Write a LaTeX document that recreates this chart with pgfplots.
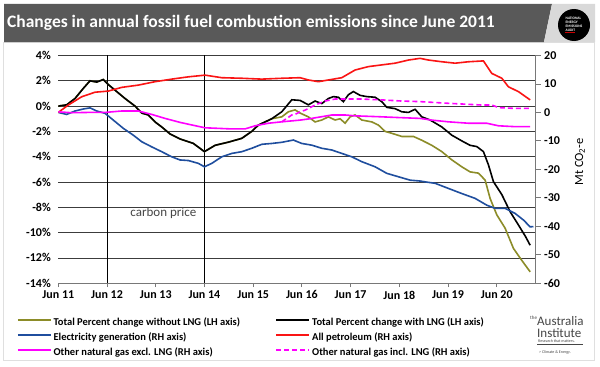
\documentclass[border=0pt]{standalone}
\usepackage{pgfplots}
\pgfplotsset{compat=1.18}
\usepackage{fontspec}
\setmainfont{Carlito}
\definecolor{cgold}{RGB}{140,140,40}
\definecolor{cblue}{RGB}{31,78,158}
\definecolor{cred}{RGB}{250,20,20}
\definecolor{cmag}{RGB}{255,0,255}
\definecolor{gridgray}{RGB}{60,60,60}
\definecolor{axisgray}{RGB}{120,120,120}
\definecolor{titlegray}{RGB}{89,89,89}
\definecolor{lightgray2}{RGB}{217,217,217}
\definecolor{txtgray}{RGB}{70,70,70}
\begin{document}
\begin{tikzpicture}[x=1bp,y=1bp]
\fill[white] (0,0) rectangle (600,366);
\draw[gray!25, line width=0.8bp] (3,6) rectangle (594,324);
% title bar
\fill[titlegray] (4,324) -- (4,362) -- (552,362) -- (544,324) -- cycle;
\fill[lightgray2] (544,324) -- (552,362) -- (595,362) -- (595,324) -- cycle;
\fill[black] (574,341) circle (16);
\node[white, font=\bfseries\fontsize{3.6bp}{3.9bp}\selectfont, align=left, inner sep=0pt] at (574,341.5) {NATIONAL\\ENERGY\\EMISSIONS\\AUDIT};
\draw[red!80!black, line width=0.4bp] (565,333.6) -- (575,333.6);
\node[anchor=west, white, font=\bfseries\fontsize{17.5bp}{19bp}\selectfont, inner sep=0pt] at (7,343) {Changes in annual fossil fuel combustion emissions since June 2011};
% Australia Institute logo
\node[anchor=base west, txtgray, font=\fontsize{5bp}{5bp}\selectfont, inner sep=0pt] at (530,47) {the};
\node[anchor=base west, txtgray, font=\fontsize{13bp}{13bp}\selectfont, inner sep=0pt] at (537,41) {Australia};
\node[anchor=base west, txtgray, font=\fontsize{13bp}{13bp}\selectfont, inner sep=0pt] at (537,29) {Institute};
\node[anchor=base west, txtgray, font=\fontsize{4bp}{4bp}\selectfont, inner sep=0pt] at (538,23.5) {Research that matters.};
\draw[txtgray, line width=0.3bp] (537,21.5) -- (583,21.5);
\node[anchor=base west, txtgray, font=\fontsize{4bp}{4bp}\selectfont, inner sep=0pt] at (539,13) {> Climate \& Energy.};

\begin{axis}[
  at={(58.3bp,82.8bp)}, anchor=south west, scale only axis,
  width=477.4bp, height=227.7bp,
  xmin=0, xmax=9.8, ymin=-14, ymax=4,
  axis x line*=bottom, axis y line*=left,
  y axis line style={draw=none},
  x axis line style={draw=axisgray, line width=0.8bp},
  xtick={0,1,2,3,4,5,6,7,8,9},
  xticklabels={Jun 11,Jun 12,Jun 13,Jun 14,Jun 15,Jun 16,Jun 17,Jun 18,Jun 19,Jun 20},
  ytick={-14,-12,-10,-8,-6,-4,-2,0,2,4},
  yticklabels={-14\%,-12\%,-10\%,-8\%,-6\%,-4\%,-2\%,0\%,2\%,4\%},
  ymajorgrids, grid style={draw=gridgray, line width=0.8bp},
  xtick style={draw=axisgray, line width=0.8bp}, ytick style={draw=none},
  major tick length=4bp, tick align=outside,
  tick label style={font=\bfseries\fontsize{12bp}{14bp}\selectfont, text=black},
]
\addplot[black, line width=0.8bp] coordinates {(1,-14)(1,4)};
\addplot[black, line width=0.8bp] coordinates {(3,-14)(3,4)};
\node[text=txtgray, font=\fontsize{13bp}{15bp}\selectfont] at (axis cs:2.157,-8.47) {carbon price};
% gold: total without LNG
\addplot[cgold, line width=1.6bp] coordinates {
(0,0)(0.172,0.1)(0.343,0.6)(0.513,1.4)(0.651,2.0)(0.789,1.9)(0.924,2.1)(1.027,1.7)(1.199,1.15)(1.370,0.6)(1.575,0)(1.713,-0.55)(1.848,-0.7)(1.986,-1.25)(2.123,-1.65)(2.294,-2.2)(2.499,-2.6)(2.772,-2.95)(3.0,-3.6)(3.218,-3.1)(3.491,-2.85)(3.766,-2.55)(3.971,-2.0)(4.107,-1.5)(4.382,-1.0)
(4.587,-0.85)(4.723,-0.45)(4.860,-0.3)(4.963,-0.55)(5.133,-0.85)(5.271,-1.25)(5.409,-1.1)(5.544,-0.85)(5.682,-1.1)(5.784,-1.0)(5.887,-1.35)(5.990,-0.85)(6.092,-0.7)(6.230,-1.1)(6.435,-1.25)(6.571,-1.5)(6.708,-2.0)(6.846,-2.15)(7.051,-2.4)(7.290,-2.4)(7.462,-2.7)(7.667,-3.1)(7.873,-3.6)(8.078,-4.25)(8.283,-4.8)(8.453,-5.2)(8.624,-5.3)(8.762,-5.85)(8.864,-7.3)(9.002,-8.6)(9.172,-9.65)(9.343,-11.25)(9.515,-12.2)(9.686,-13.1)};
% black: total with LNG
\addplot[black, line width=1.6bp] coordinates {
(0,0)(0.172,0.1)(0.343,0.6)(0.513,1.4)(0.651,2.0)(0.789,1.9)(0.924,2.1)(1.027,1.7)(1.199,1.15)(1.370,0.6)(1.575,0)(1.713,-0.55)(1.848,-0.7)(1.986,-1.25)(2.123,-1.65)(2.294,-2.2)(2.499,-2.6)(2.772,-2.95)(3.0,-3.6)(3.218,-3.1)(3.491,-2.85)(3.766,-2.55)(3.971,-2.0)(4.107,-1.5)(4.382,-1.0)(4.587,-0.45)(4.793,0.5)(4.963,0.45)(5.133,0.1)(5.271,0.4)(5.409,0.2)(5.544,0.6)(5.647,0.75)(5.749,0.7)(5.852,0.35)(5.955,0.9)(6.057,1.15)(6.195,0.85)(6.333,0.75)(6.503,0.7)(6.641,0.35)(6.743,-0.1)(6.914,-0.2)(7.051,-0.45)(7.187,-0.5)(7.324,-0.25)(7.462,-0.85)(7.633,-1.1)(7.873,-1.65)(8.078,-2.3)(8.283,-2.75)(8.453,-3.1)(8.591,-3.2)(8.727,-3.6)(8.830,-4.65)(8.932,-5.97)(9.105,-7.0)(9.275,-8.35)(9.446,-9.4)(9.589,-10.3)(9.686,-11.0)};
\end{axis}

\begin{axis}[
  at={(58.3bp,82.8bp)}, anchor=south west, scale only axis,
  width=477.4bp, height=227.7bp,
  xmin=0, xmax=9.8, ymin=-60, ymax=20,
  axis y line*=right, axis x line=none,
  y axis line style={draw=axisgray, line width=0.8bp},
  ytick={-60,-50,-40,-30,-20,-10,0,10,20},
  yticklabels={-60,-50,-40,-30,-20,-10,0,10,20},
  ytick style={draw=axisgray, line width=0.8bp}, tick align=outside, major tick length=5bp,
  yticklabel style={font=\bfseries\fontsize{12bp}{14bp}\selectfont, text=black, anchor=west},
  ylabel={Mt CO\textsubscript{2}-e},
  every axis y label/.style={at={(axis description cs:1.0928,0.533)}, rotate=90, anchor=center, font=\fontsize{12.5bp}{14bp}\selectfont},
  legend columns=2,
  legend cell align=left,
  legend image code/.code={\draw[#1] (0bp,3bp) -- (33bp,3bp);},
  legend style={at={(axis description cs:-0.0865,-0.1506)}, anchor=north west, draw=none, fill=none,
    inner sep=0pt, outer sep=0pt, row sep=4bp,
    nodes={inner xsep=2bp, inner ysep=0pt, text height=8bp, text depth=3bp, font=\bfseries\fontsize{10.5bp}{12bp}\selectfont},
    /tikz/every even column/.append style={column sep=5bp}},
]
\addlegendimage{cgold, line width=1.6bp}
\addlegendentry{\makebox[215bp][l]{Total Percent change without LNG (LH axis)}}
\addlegendimage{black, line width=1.6bp}
\addlegendentry{Total Percent change with LNG (LH axis)}
% blue: electricity
\addplot[cblue, line width=1.6bp] coordinates {
(0,0)(0.172,-0.7)(0.343,0.5)(0.513,1.2)(0.651,1.6)(0.789,0.5)(0.959,-0.3)(1.129,-2.7)(1.335,-5.6)(1.540,-8.0)(1.713,-10.3)(1.918,-12.1)(2.123,-13.8)(2.329,-15.6)(2.499,-16.7)(2.669,-16.9)(2.875,-17.9)(3.0,-19.1)(3.150,-17.9)(3.355,-15.6)(3.561,-14.4)(3.766,-13.8)(3.971,-12.6)(4.177,-11.2)(4.382,-10.9)(4.587,-10.5)(4.825,-9.7)(4.998,-10.9)(5.203,-11.5)(5.409,-12.6)(5.614,-13.2)(5.819,-14.4)(6.025,-15.6)(6.230,-17.3)(6.503,-19.1)(6.743,-21.4)(6.982,-22.6)(7.222,-23.8)(7.427,-24.1)(7.530,-24.4)(7.735,-24.9)(8.008,-26.7)(8.283,-28.5)(8.556,-30.2)(8.797,-32.6)(8.967,-33.7)(9.172,-33.7)(9.378,-35.5)(9.548,-37.8)(9.686,-40.2)(9.754,-40.1)};
\addlegendentry{\makebox[215bp][l]{Electricity generation (RH axis)}}
% red: petroleum
\addplot[cred, line width=1.6bp] coordinates {
(0,0)(0.205,2.6)(0.480,5.5)(0.754,7.1)(1.027,7.5)(1.302,8.8)(1.643,9.6)(1.986,10.8)(2.329,11.7)(2.669,12.5)(3.012,13.1)(3.355,12.2)(3.766,12.0)(4.177,11.7)(4.587,12.0)(4.963,12.2)(5.133,11.4)(5.339,10.8)(5.544,11.4)(5.819,12.2)(6.092,14.9)(6.366,16.1)(6.641,16.7)(6.914,17.3)(7.187,18.4)(7.427,19.0)(7.598,18.4)(7.873,17.8)(8.146,17.3)(8.419,17.8)(8.727,18.1)(8.899,13.7)(9.105,12.0)(9.240,9.0)(9.446,7.3)(9.686,4.4)};
\addlegendentry{All petroleum (RH axis)}
% magenta solid
\addplot[cmag, line width=1.6bp] coordinates {
(0,0.2)(0.275,-0.1)(0.616,0)(0.959,0)(1.302,0.5)(1.643,0.5)(1.918,-0.7)(2.191,-2.1)(2.499,-3.5)(2.739,-4.4)(3.012,-5.4)(3.285,-5.6)(3.561,-5.8)(3.834,-5.8)(4.039,-4.7)(4.312,-3.8)(4.587,-3.3)(4.963,-2.7)(5.133,-2.3)(5.409,-1.5)(5.614,-0.9)(5.887,-0.9)(6.092,-1.2)(6.571,-1.5)(6.982,-1.8)(7.427,-2.1)(7.667,-2.7)(8.008,-3.3)(8.419,-3.8)(8.797,-3.8)(9.035,-4.7)(9.378,-5.0)(9.686,-5.0)};
\addlegendentry{\makebox[215bp][l]{Other natural gas excl. LNG (RH axis)}}
% magenta dashed
\addplot[cmag, line width=1.6bp, dash pattern=on 5bp off 3bp] coordinates {
(4.587,-3.3)(4.793,-0.9)(4.860,-0.7)(4.963,0.2)(5.066,0.8)(5.271,2.6)(5.476,4.0)(5.682,4.7)(6.230,4.7)(6.641,4.4)(7.051,4.0)(7.427,3.8)(8.008,3.2)(8.694,2.6)(8.899,2.6)(9.035,1.7)(9.378,1.4)(9.686,1.4)};
\addlegendentry{Other natural gas incl. LNG (RH axis)}
\end{axis}
\end{tikzpicture}
\end{document}
